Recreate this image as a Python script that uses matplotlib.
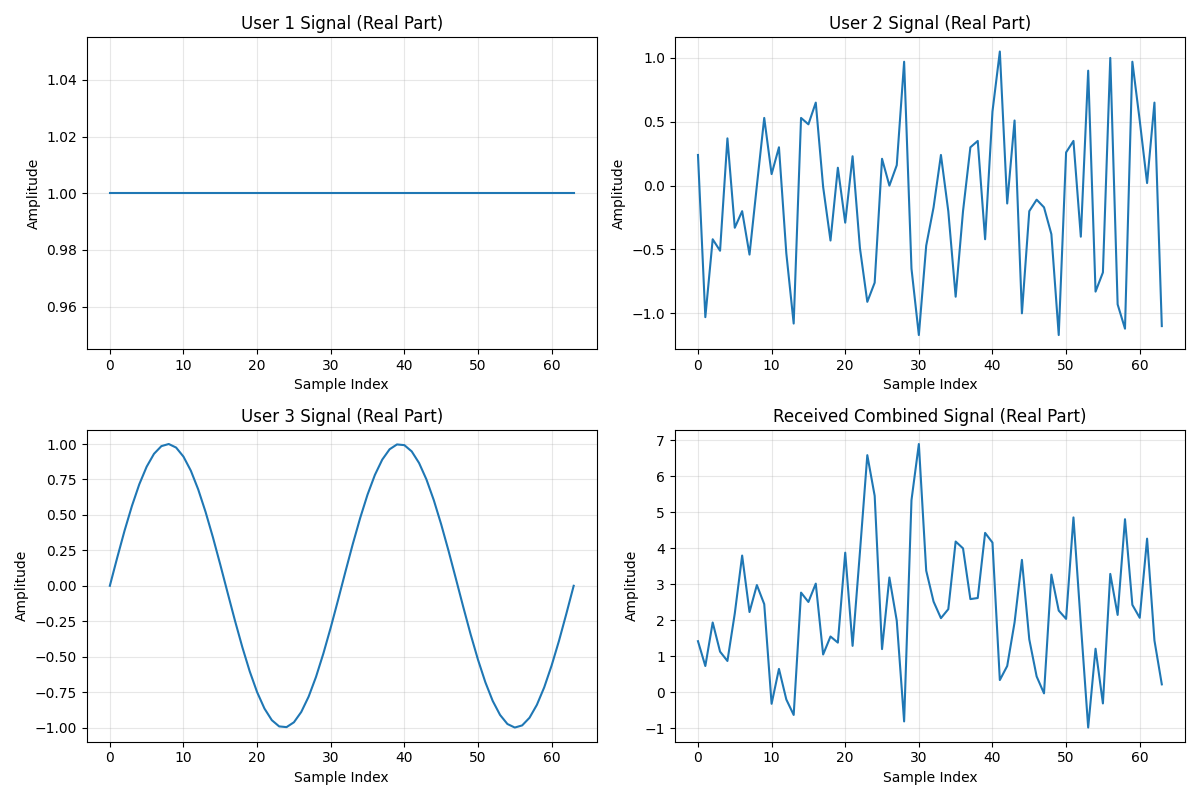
import matplotlib
matplotlib.use("Agg")
import matplotlib.pyplot as plt
import numpy as np

n_samples = 64
sample_index = list(range(n_samples))

user1 = [1.0] * n_samples

user2 = [0.24, -1.03, -0.42, -0.51, 0.37, -0.33, -0.20, -0.54, 0.00, 0.53,
         0.09, 0.30, -0.53, -1.08, 0.53, 0.48, 0.65, -0.01, -0.43, 0.14,
         -0.29, 0.23, -0.49, -0.91, -0.76, 0.21, 0.00, 0.16, 0.97, -0.65,
         -1.17, -0.47, -0.17, 0.24, -0.20, -0.87, -0.20, 0.30, 0.35, -0.42,
         0.58, 1.05, -0.14, 0.51, -1.00, -0.20, -0.11, -0.17, -0.38, -1.17,
         0.26, 0.35, -0.40, 0.90, -0.83, -0.68, 1.00, -0.93, -1.12, 0.97,
         0.51, 0.02, 0.65, -1.10]

user3 = [0.000, 0.198, 0.389, 0.563, 0.716, 0.840, 0.931, 0.985, 1.000, 0.975,
         0.911, 0.812, 0.680, 0.521, 0.342, 0.149, -0.050, -0.247, -0.434, -0.604,
         -0.750, -0.866, -0.948, -0.992, -0.997, -0.963, -0.890, -0.782, -0.643, -0.478,
         -0.295, -0.100, 0.100, 0.295, 0.478, 0.643, 0.782, 0.890, 0.963, 0.997,
         0.992, 0.948, 0.866, 0.750, 0.604, 0.434, 0.247, 0.050, -0.149, -0.342,
         -0.521, -0.680, -0.812, -0.911, -0.975, -1.000, -0.985, -0.931, -0.840, -0.716,
         -0.563, -0.389, -0.198, 0.000]

combined = [1.42, 0.73, 1.94, 1.13, 0.87, 2.19, 3.80, 2.23, 2.98, 2.45,
            -0.32, 0.65, -0.20, -0.63, 2.77, 2.51, 3.02, 1.05, 1.55, 1.38,
            3.88, 1.29, 3.90, 6.59, 5.46, 1.20, 3.19, 1.99, -0.81, 5.34,
            6.90, 3.38, 2.52, 2.06, 2.31, 4.19, 4.00, 2.59, 2.62, 4.43,
            4.16, 0.34, 0.73, 1.94, 3.68, 1.47, 0.44, -0.03, 3.27, 2.27,
            2.04, 4.86, 1.90, -0.98, 1.21, -0.31, 3.29, 2.15, 4.81, 2.43,
            2.07, 4.27, 1.44, 0.22]

titles = ["User 1 Signal (Real Part)", "User 2 Signal (Real Part)",
          "User 3 Signal (Real Part)", "Received Combined Signal (Real Part)"]
series = [user1, user2, user3, combined]

fig, axes = plt.subplots(2, 2, figsize=(12, 8), dpi=100)
for ax, title, data in zip(axes.flat, titles, series):
    ax.plot(sample_index, data)
    ax.set_title(title)
    ax.set_xlabel("Sample Index")
    ax.set_ylabel("Amplitude")
    ax.grid(True, alpha=0.3)

plt.tight_layout()
plt.savefig("out.png")
